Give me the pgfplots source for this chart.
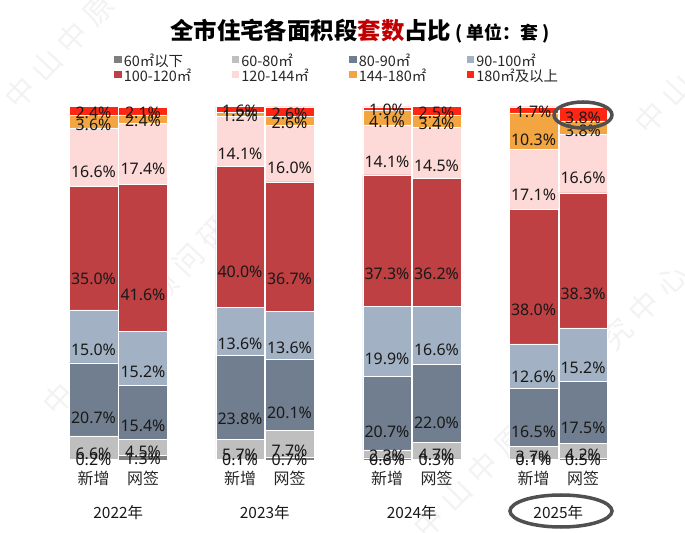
\documentclass[border=0pt]{standalone}
\usepackage{fontspec}
\setmainfont{Noto Sans}
\newfontfamily\cjk{Noto Sans CJK SC}
\newfontfamily\cjkwm{Noto Sans CJK SC}[LetterSpace=27]
\usepackage{pgfplots}
\pgfplotsset{compat=1.18}
\definecolor{cA}{HTML}{7F7F7F}
\definecolor{cB}{HTML}{BFBFBF}
\definecolor{cC}{HTML}{717E8F}
\definecolor{cD}{HTML}{A2B2C4}
\definecolor{cE}{HTML}{BE4042}
\definecolor{cF}{HTML}{FDDAD8}
\definecolor{cG}{HTML}{F2A541}
\definecolor{cH}{HTML}{FF2614}
\definecolor{titlered}{HTML}{C00000}
\definecolor{ellgray}{HTML}{505050}
\begin{document}
\begin{tikzpicture}
\useasboundingbox (0,0) rectangle (685bp,533bp);
% watermarks
\foreach \cx/\cy/\ang in {175/259/47, 550/132/45, 137/565/47, 767/540/47}{
  \node[font=\cjkwm\fontsize{30}{30}\selectfont, text=gray, opacity=0.10, rotate=\ang] at (\cx bp,\cy bp) {中山中原顾问研究中心};
}
\begin{axis}[
  at={(44bp,73bp)}, anchor=south west,
  width=594bp, height=353bp, scale only axis,
  xmin=-1, xmax=11, ymin=0, ymax=100,
  ybar stacked, bar width=0.98,
  clip=false,
  axis x line*=bottom, axis y line=none,
  x axis line style={draw=none},
  major tick length=0pt,
  ytick=\empty,
  xtick={0,1,2.96,3.96,5.93,6.93,8.89,9.89},
  xticklabels={新增,网签,新增,网签,新增,网签,新增,网签},
  xticklabel style={font=\cjk\fontsize{16}{17}\selectfont, anchor=center, yshift=-18bp, text=black!85},
  point meta=explicit symbolic,
  nodes near coords={\pgfplotspointmeta\%},
  every node near coord/.append style={anchor=center, yshift=-\pgfplotspointmeta*0.8825bp, font=\fontsize{16}{16}\selectfont, text=black!90, inner sep=0pt},
  legend columns=4,
  legend style={at={(0.118,1.149)}, anchor=north west, draw=none, fill=none, inner sep=0pt,
    font=\cjk\fontsize{14.5}{15}\selectfont, text=black!85,
    nodes={text width=107bp, text height=10.5bp, text depth=2.5bp, inner sep=1bp, align=left},
    /tikz/every odd column/.append style={column sep=1bp},
    row sep=0bp},
  every axis plot post/.append style={draw=white, line width=0.5bp,
    legend image code/.code={\fill[##1, draw=none] (0bp,-1.2bp) rectangle (7.5bp,6.3bp);}},
]
\addplot[fill=cA] coordinates {(0,0.2)[0.2] (1,1.3)[1.3] (2.96,0.1)[0.1] (3.96,0.7)[0.7] (5.93,0.6)[0.6] (6.93,0.3)[0.3] (8.89,0.1)[0.1] (9.89,0.5)[0.5]};
\addplot[fill=cB] coordinates {(0,6.6)[6.6] (1,4.5)[4.5] (2.96,5.7)[5.7] (3.96,7.7)[7.7] (5.93,2.3)[2.3] (6.93,4.7)[4.7] (8.89,3.7)[3.7] (9.89,4.2)[4.2]};
\addplot[fill=cC] coordinates {(0,20.7)[20.7] (1,15.4)[15.4] (2.96,23.8)[23.8] (3.96,20.1)[20.1] (5.93,20.7)[20.7] (6.93,22.0)[22.0] (8.89,16.5)[16.5] (9.89,17.5)[17.5]};
\addplot[fill=cD] coordinates {(0,15.0)[15.0] (1,15.2)[15.2] (2.96,13.6)[13.6] (3.96,13.6)[13.6] (5.93,19.9)[19.9] (6.93,16.6)[16.6] (8.89,12.6)[12.6] (9.89,15.2)[15.2]};
\addplot[fill=cE] coordinates {(0,35.0)[35.0] (1,41.6)[41.6] (2.96,40.0)[40.0] (3.96,36.7)[36.7] (5.93,37.3)[37.3] (6.93,36.2)[36.2] (8.89,38.0)[38.0] (9.89,38.3)[38.3]};
\addplot[fill=cF] coordinates {(0,16.6)[16.6] (1,17.4)[17.4] (2.96,14.1)[14.1] (3.96,16.0)[16.0] (5.93,14.1)[14.1] (6.93,14.5)[14.5] (8.89,17.1)[17.1] (9.89,16.6)[16.6]};
\addplot[fill=cG] coordinates {(0,3.6)[3.6] (1,2.4)[2.4] (2.96,1.2)[1.2] (3.96,2.6)[2.6] (5.93,4.1)[4.1] (6.93,3.4)[3.4] (8.89,10.3)[10.3] (9.89,3.8)[3.8]};
\addplot[fill=cH] coordinates {(0,2.4)[2.4] (1,2.1)[2.1] (2.96,1.6)[1.6] (3.96,2.6)[2.6] (5.93,1.0)[1.0] (6.93,2.5)[2.5] (8.89,1.7)[1.7] (9.89,3.8)[3.8]};
\legend{60㎡以下,60-80㎡,80-90㎡,90-100㎡,100-120㎡,120-144㎡,144-180㎡,180㎡及以上}
\node[font=\cjk\fontsize{15.5}{16}\selectfont, text=black!90] at (axis cs:0.5,0) [yshift=-53bp] {2022年};
\node[font=\cjk\fontsize{15.5}{16}\selectfont, text=black!90] at (axis cs:3.46,0) [yshift=-53bp] {2023年};
\node[font=\cjk\fontsize{15.5}{16}\selectfont, text=black!90] at (axis cs:6.43,0) [yshift=-53bp] {2024年};
\node[font=\cjk\fontsize{15.5}{16}\selectfont, text=black!90] at (axis cs:9.39,0) [yshift=-53bp] {2025年};
\end{axis}
\node[font=\cjk\bfseries\fontsize{23.5}{25}\selectfont, inner sep=0pt] at (360bp,502bp) {全市住宅各面积段\textcolor{titlered}{套数}占比{\fontsize{18}{18}\selectfont\ ( 单位：套 )}};
\draw[line width=3.5bp, ellgray] (583bp,418bp) ellipse [x radius=29bp, y radius=13bp];
\draw[line width=3.5bp, ellgray] (561bp,22bp) ellipse [x radius=51bp, y radius=16bp];
\end{tikzpicture}
\end{document}
